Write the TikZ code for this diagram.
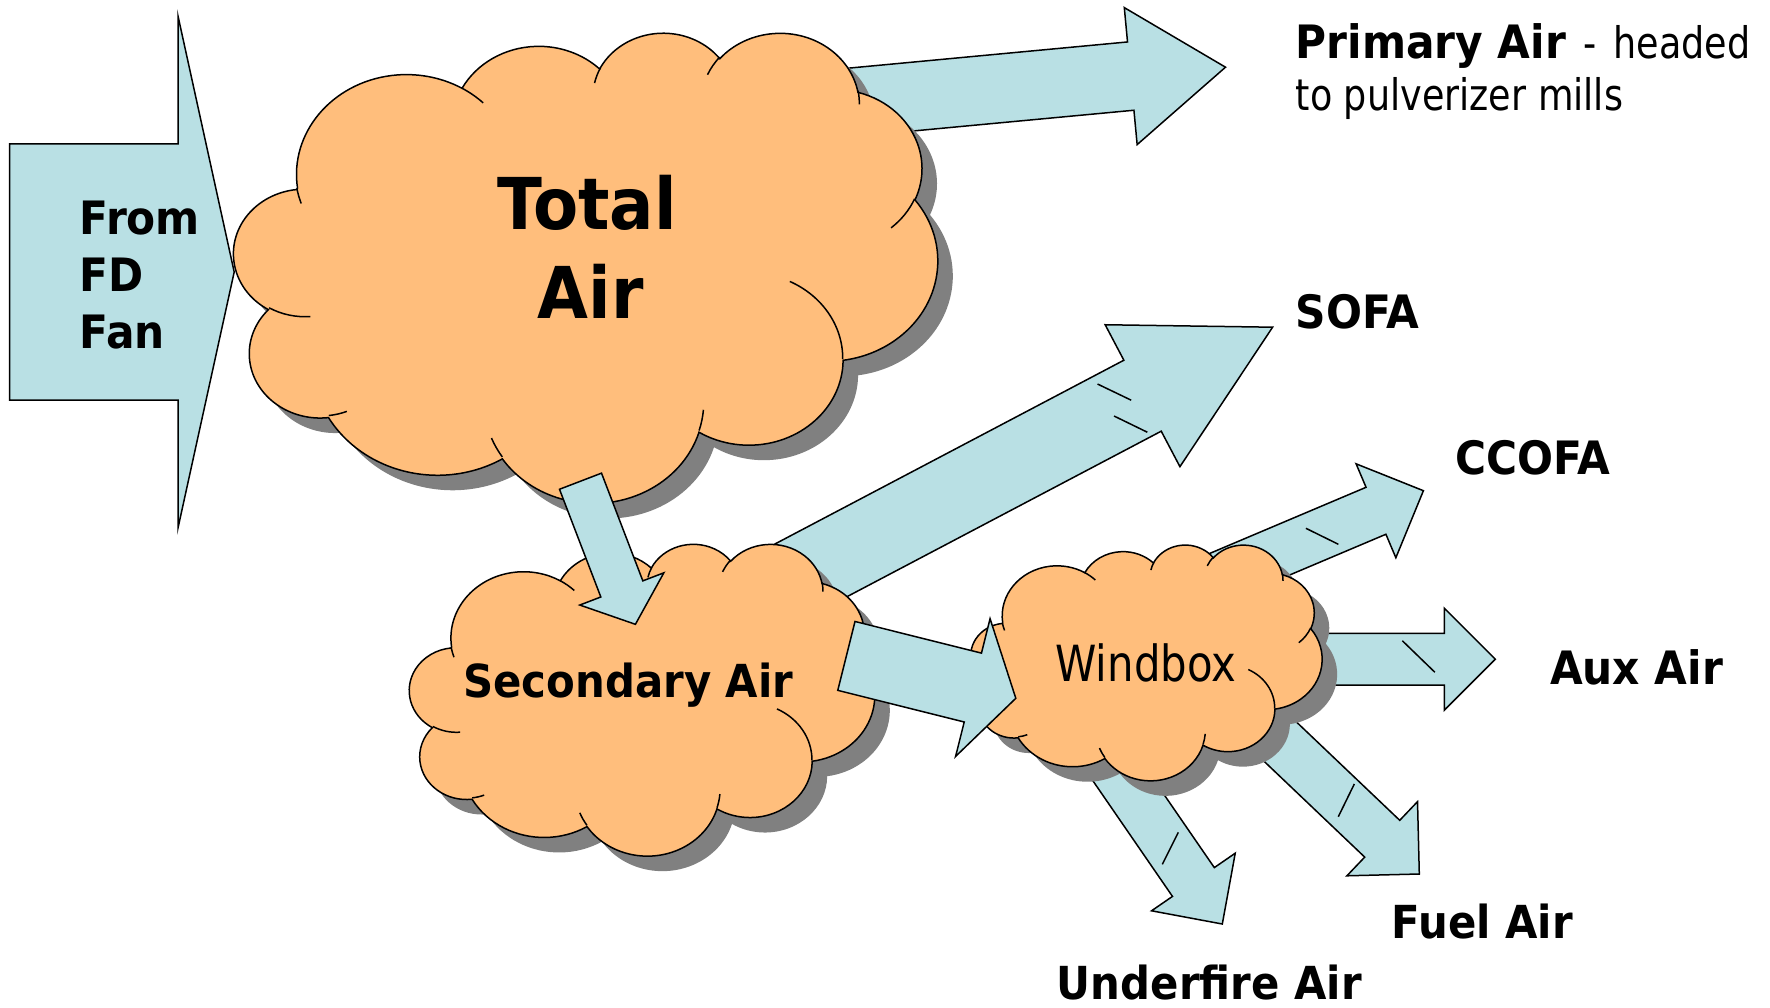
\documentclass[tikz,border=0pt]{standalone}
\usepackage{fontspec}
\newfontfamily\tahoma[FakeStretch=0.92]{DejaVu Sans}
\newfontfamily\tahomathin[FakeStretch=0.84]{DejaVu Sans}
\usepackage{tikz}
\usetikzlibrary{calc}

\definecolor{airblue}{RGB}{185,224,228}
\definecolor{airorange}{RGB}{255,190,124}
\definecolor{shade}{RGB}{128,128,128}

% arc of the office cloud: x radius, y radius, start and sweep angle (seen on the ellipse)
\tikzset{pptarc/.style n args={4}{x radius=#1pt,y radius=#2pt,
  start angle={atan2(#1*sin(#3),#2*cos(#3))},
  delta angle={Mod(atan2(#1*sin((#3)+(#4)),#2*cos((#3)+(#4)))-atan2(#1*sin(#3),#2*cos(#3)),360)}}}

% cloud outline in a 43.2 x 43.2 box, y downwards
\def\cloudoutline{(3.9,14.37)
  arc[pptarc={6.753}{9.19}{-190.4875}{123.7805}]
  arc[pptarc={5.333}{7.267}{-144.1024}{89.9452}]
  arc[pptarc={4.365}{5.945}{-145.8079}{99.723}]
  arc[pptarc={4.857}{6.595}{-130.9861}{117.2417}]
  arc[pptarc={5.333}{7.273}{-78.7089}{109.0269}]
  arc[pptarc={6.775}{9.22}{-46.2673}{130.269}]
  arc[pptarc={5.785}{7.867}{0.625}{114.0333}]
  arc[pptarc={6.752}{9.215}{22.4516}{115.1726}]
  arc[pptarc={7.72}{10.543}{66.2426}{75.711}]
  arc[pptarc={4.36}{5.918}{-274.9421}{146.7356}]
  arc[pptarc={4.345}{5.945}{-246.8285}{152.5189}]
  -- cycle}
% the little creases inside the cloud
\def\cloudcreases{
  (4.693,26.177) arc[pptarc={4.345}{5.945}{86.742}{26.4295}]
  (6.928,34.899) arc[pptarc={4.36}{5.918}{73.6105}{11.4475}]
  (16.478,39.09) arc[pptarc={6.752}{9.215}{137.6242}{14.0811}]
  (28.827,34.751) arc[pptarc={6.752}{9.215}{6.4533}{15.9984}]
  (34.129,22.954) arc[pptarc={5.785}{7.867}{-70.2924}{70.9174}]
  (41.798,15.354) arc[pptarc={5.333}{7.273}{30.318}{27.7515}]
  (38.324,5.426) arc[pptarc={4.857}{6.595}{-13.7443}{14.8589}]
  (29.078,3.952) arc[pptarc={4.857}{6.595}{-149.1815}{18.1954}]
  (22.141,4.72) arc[pptarc={4.365}{5.945}{-163.4943}{17.6864}]
  (14,5.192) arc[pptarc={6.753}{9.19}{-66.707}{12.3194}]
  (4.127,15.789) arc[pptarc={6.753}{9.19}{154.6815}{11.6335}]}

% cloud with its shadow: left, top, width, height
\newcommand\pptcloud[4]{%
  \begin{scope}[shift={(#1+15,#2+15)},xscale=#3/43.2,yscale=#4/43.2]
    \fill[cloudshade] \cloudoutline;
  \end{scope}
  \begin{scope}[shift={(#1,#2)},xscale=#3/43.2,yscale=#4/43.2]
    \filldraw[cloudfill] \cloudoutline;
    \draw[cloudrim] \cloudcreases;
  \end{scope}}

% block arrow: tail, tip, half body, half head, head length
\newcommand\blockarrow[5]{%
  \path ($(#2)!#5!(#1)$) coordinate (neck);
  \filldraw[airarrow] ($(#1)!#3!90:(#2)$) -- ($(neck)!#3!90:(#2)$) -- ($(neck)!#4!90:(#2)$)
    -- (#2) -- ($(neck)!#4!-90:(#2)$) -- ($(neck)!#3!-90:(#2)$) -- ($(#1)!#3!-90:(#2)$) -- cycle;}

\begin{document}
\begin{tikzpicture}[x=1pt,y=1pt,yscale=-1]
% --- styles -------------------------------------------------
\tikzstyle{airarrow}=[fill=airblue,draw=black,line width=1.5pt]
\tikzstyle{cloudshade}=[fill=shade]
\tikzstyle{cloudfill}=[fill=airorange,draw=black,line width=1.5pt]
\tikzstyle{cloudrim}=[draw=black,line width=1.5pt]
\tikzstyle{flowtick}=[line width=1.5pt]
\tikzstyle{lbl}=[inner sep=0pt,anchor=base west,font={\tahoma\bfseries\fontsize{46}{54}\selectfont}]
\tikzstyle{note}=[inner sep=0pt,anchor=base west,font={\tahomathin\fontsize{43.5}{52}\selectfont}]

\useasboundingbox (0,0) rectangle (1770,1007);

% --- key coordinates ------------------------------------------
\coordinate (fd-tail) at (9.6,272);      % fan arrow
\coordinate (fd-tip)  at (234.2,272);
\coordinate (pa-tail) at (732.4,113.5);  % primary air
\coordinate (pa-tip)  at (1225.5,67.2);
\coordinate (so-tail) at (744.2,605.5);  % SOFA
\coordinate (so-tip)  at (1272.6,327.2);
\coordinate (cc-tail) at (1145.5,608.3); % CCOFA
\coordinate (cc-tip)  at (1423.4,490.7);
\coordinate (ax-tail) at (1250,659.2);   % aux air
\coordinate (ax-tip)  at (1495.3,659.2);
\coordinate (fu-tail) at (1201,666.2);   % fuel air
\coordinate (fu-tip)  at (1419.3,874);
\coordinate (uf-tail) at (1051.6,676);   % underfire air
\coordinate (uf-tip)  at (1222.3,924);
\coordinate (ts-tail) at (580.5,481.2);  % total -> secondary
\coordinate (ts-tip)  at (635.4,624.3);
\coordinate (sw-tail) at (846.4,655.9);  % secondary -> windbox
\coordinate (sw-tip)  at (1015.8,698.3);

% --- fan and primary air --------------------------------------
\blockarrow{fd-tail}{fd-tip}{128.1pt}{256pt}{56.2pt}
\blockarrow{pa-tail}{pa-tip}{34.3pt}{68.8pt}{95.2pt}

% --- total air ------------------------------------------------
\pptcloud{234}{31.7}{703.5}{470}

% --- branches behind the lower clouds -------------------------
\blockarrow{so-tail}{so-tip}{40.1pt}{80.2pt}{147pt}
\blockarrow{cc-tail}{cc-tip}{25.5pt}{51pt}{51.5pt}
\blockarrow{ax-tail}{ax-tip}{25.8pt}{51pt}{51pt}
\blockarrow{fu-tail}{fu-tip}{25.4pt}{51.2pt}{51.2pt}
\blockarrow{uf-tail}{uf-tip}{25.4pt}{50.8pt}{51pt}

% --- secondary air and windbox --------------------------------
\pptcloud{409.6}{543.3}{465}{311.7}
\pptcloud{971}{544.3}{351}{235.7}

% --- arrows on top of the clouds ------------------------------
\blockarrow{ts-tail}{ts-tip}{22.5pt}{45pt}{37.9pt}
\blockarrow{sw-tail}{sw-tip}{35.5pt}{71pt}{44.3pt}

% small strokes on the branches
\draw[flowtick] (1097.5,384) -- (1131.2,400.2);
\draw[flowtick] (1114,416) -- (1147.3,432.2);
\draw[flowtick] (1305.9,528.3) -- (1338.4,544.3);
\draw[flowtick] (1402.3,640.7) -- (1434.9,672.3);
\draw[flowtick] (1354.3,784) -- (1338.3,816.7);
\draw[flowtick] (1178.3,832.3) -- (1162.3,864.3);

% --- texts ----------------------------------------------------
\node[lbl,font={\tahoma\bfseries\fontsize{46}{54}\selectfont}] (from) at (79.6,234.2) {From};
\node[lbl,font={\tahoma\bfseries\fontsize{46}{54}\selectfont}] (fd) at (79.6,291) {FD};
\node[lbl,font={\tahoma\bfseries\fontsize{46}{54}\selectfont}] (fan) at (79.6,348.5) {Fan};
\node[lbl,anchor=base,font={\tahoma\bfseries\fontsize{71.5}{80}\selectfont}] (total) at (587,229) {Total};
\node[lbl,anchor=base,font={\tahoma\bfseries\fontsize{71.5}{80}\selectfont}] (air) at (590.8,318.6) {Air};
\node[lbl,font={\tahoma\bfseries\fontsize{45.5}{54}\selectfont}] (secondary) at (463.1,697.3) {Secondary Air};
\node[note,font={\tahomathin\fontsize{49.8}{58}\selectfont}] (windbox) at (1055.2,681.7) {Windbox};
\node[lbl] (primary) at (1295.5,58.5) {Primary Air{\tahomathin\mdseries\fontsize{43.5}{52}\selectfont{}\hspace{6pt} -\hspace{5pt} headed}};
\node[note] (mills) at (1295.5,110.2) {to pulverizer mills};
\node[lbl] (sofa) at (1295.5,328.9) {SOFA};
\node[lbl] (ccofa) at (1455.1,474.6) {CCOFA};
\node[lbl] (aux) at (1549.8,684) {Aux Air};
\node[lbl,font={\tahoma\bfseries\fontsize{45.5}{54}\selectfont}] (fuel) at (1391.7,938.3) {Fuel Air};
\node[lbl,font={\tahoma\bfseries\fontsize{45.5}{54}\selectfont}] (underfire) at (1056.7,999) {Underfire Air};
\end{tikzpicture}
\end{document}
